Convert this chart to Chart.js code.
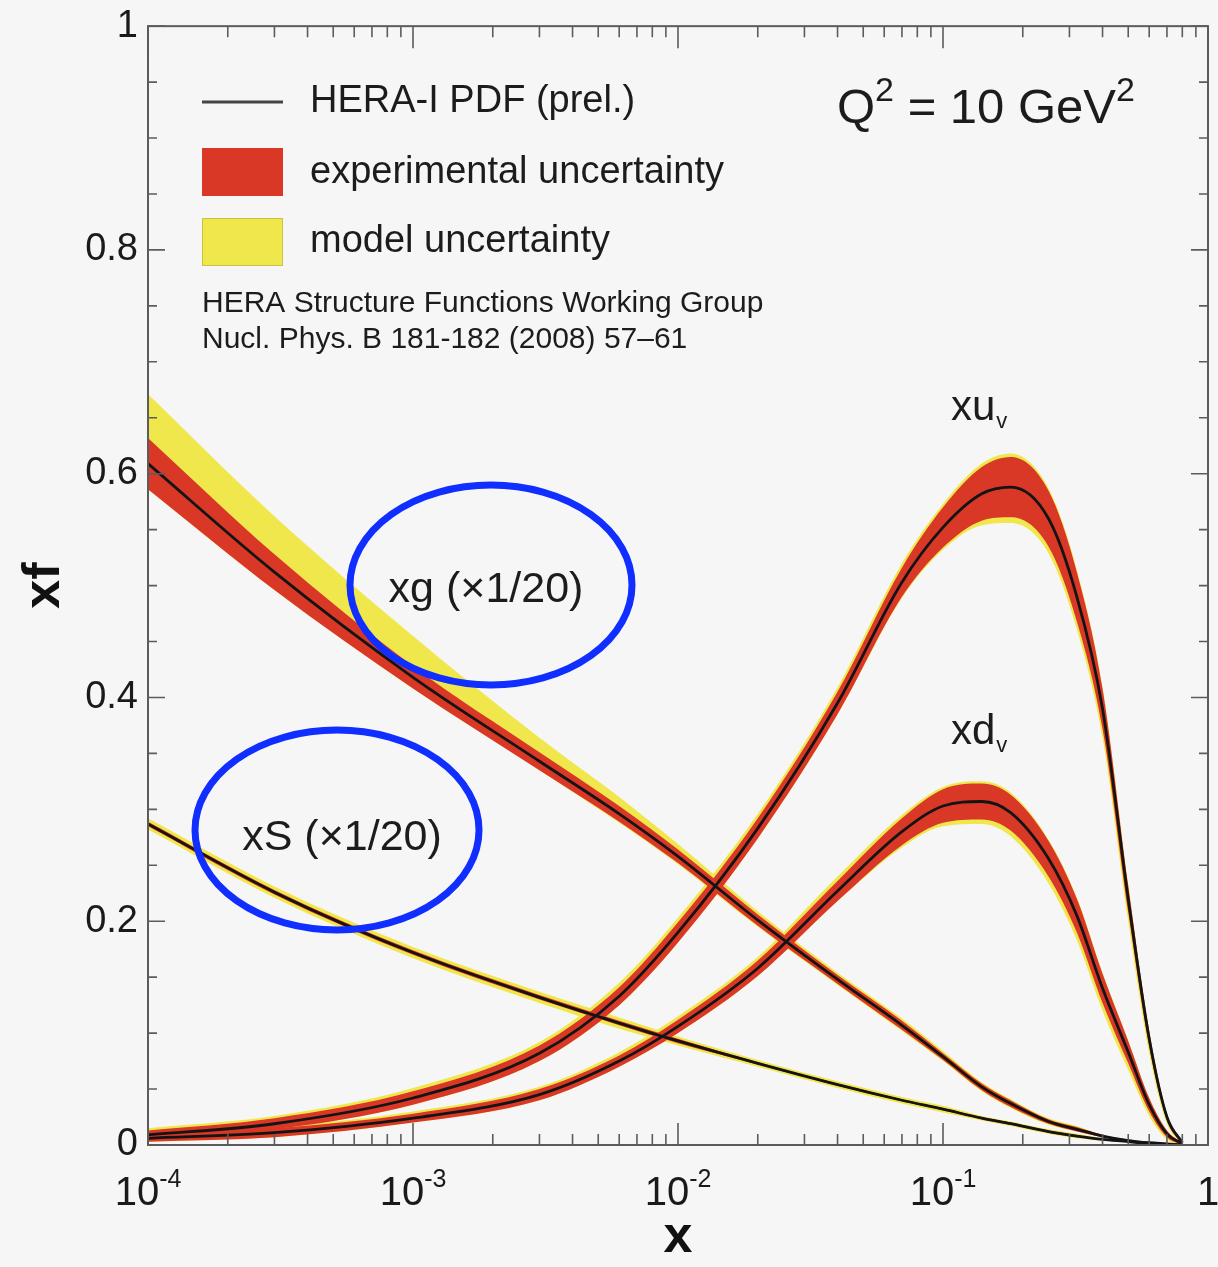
<!DOCTYPE html>
<html>
<head>
<meta charset="utf-8">
<title>HERA-I PDF, Q2 = 10 GeV2</title>
<script src="https://cdn.jsdelivr.net/npm/chart.js@4.4.1/dist/chart.umd.min.js"></script>
<style>
  html, body { margin: 0; padding: 0; background: #f6f6f6; }
  #wrap { width: 1218px; height: 1267px; }
</style>
</head>
<body>
<div id="wrap"><canvas id="chart" width="1218" height="1267"></canvas></div>
<script>
const xValues = [0.0001, 0.0003, 0.001, 0.003, 0.006, 0.01, 0.02, 0.04, 0.07, 0.1, 0.14, 0.18, 0.25, 0.32, 0.4, 0.5, 0.6, 0.7, 0.8];

// xu_v : central value, experimental half width, extra model band above / below
const xuv      = [0.009, 0.019, 0.042, 0.082, 0.133, 0.190, 0.283, 0.395, 0.503, 0.552, 0.582, 0.588, 0.560, 0.490, 0.390, 0.220, 0.095, 0.025, 0.002];
const xuvExp   = [0.004, 0.005, 0.006, 0.007, 0.008, 0.009, 0.009, 0.010, 0.013, 0.018, 0.024, 0.027, 0.025, 0.022, 0.018, 0.012, 0.007, 0.003, 0.001];
const xuvModUp = [0.002, 0.002, 0.003, 0.003, 0.004, 0.004, 0.004, 0.004, 0.004, 0.003, 0.003, 0.003, 0.002, 0.002, 0.001, 0.001, 0.000, 0.000, 0.000];
const xuvModDn = [0.000, 0.000, 0.000, 0.000, 0.000, 0.000, 0.000, 0.000, 0.001, 0.002, 0.004, 0.005, 0.006, 0.007, 0.008, 0.008, 0.006, 0.003, 0.000];

// xd_v
const xdv      = [0.006, 0.011, 0.024, 0.045, 0.075, 0.106, 0.158, 0.227, 0.280, 0.303, 0.307, 0.297, 0.256, 0.205, 0.140, 0.083, 0.036, 0.010, 0.001];
const xdvExp   = [0.003, 0.004, 0.004, 0.005, 0.005, 0.006, 0.007, 0.009, 0.012, 0.015, 0.016, 0.016, 0.016, 0.015, 0.013, 0.010, 0.006, 0.003, 0.001];
const xdvModUp = [0.001, 0.001, 0.002, 0.002, 0.003, 0.003, 0.003, 0.004, 0.003, 0.002, 0.002, 0.002, 0.001, 0.001, 0.001, 0.000, 0.000, 0.000, 0.000];
const xdvModDn = [0.000, 0.000, 0.000, 0.000, 0.000, 0.000, 0.000, 0.000, 0.002, 0.003, 0.004, 0.005, 0.006, 0.007, 0.007, 0.006, 0.004, 0.002, 0.000];

// xg (x 1/20)
const xg       = [0.609, 0.512, 0.418, 0.343, 0.296, 0.258, 0.201, 0.148, 0.107, 0.079, 0.052, 0.037, 0.021, 0.014, 0.008, 0.004, 0.002, 0.001, 0.000];
const xgExp    = [0.023, 0.016, 0.010, 0.008, 0.007, 0.006, 0.005, 0.004, 0.004, 0.003, 0.003, 0.003, 0.002, 0.002, 0.001, 0.001, 0.001, 0.000, 0.000];
const xgModUp  = [0.039, 0.034, 0.027, 0.013, 0.008, 0.005, 0.003, 0.002, 0.002, 0.002, 0.001, 0.001, 0.001, 0.001, 0.000, 0.000, 0.000, 0.000, 0.000];
const xgModDn  = [0.000, 0.000, 0.000, 0.000, 0.001, 0.001, 0.001, 0.001, 0.001, 0.001, 0.001, 0.001, 0.001, 0.000, 0.000, 0.000, 0.000, 0.000, 0.000];

// xS (x 1/20)
const xS       = [0.287, 0.226, 0.172, 0.132, 0.109, 0.093, 0.073, 0.054, 0.040, 0.032, 0.024, 0.019, 0.012, 0.008, 0.005, 0.003, 0.001, 0.000, 0.000];
const xSExp    = [0.002, 0.002, 0.002, 0.002, 0.002, 0.002, 0.001, 0.001, 0.001, 0.001, 0.001, 0.001, 0.001, 0.001, 0.000, 0.000, 0.000, 0.000, 0.000];
const xSModUp  = [0.003, 0.003, 0.003, 0.003, 0.003, 0.002, 0.002, 0.002, 0.002, 0.002, 0.001, 0.001, 0.001, 0.001, 0.001, 0.000, 0.000, 0.000, 0.000];
const xSModDn  = [0.003, 0.003, 0.003, 0.003, 0.003, 0.002, 0.002, 0.002, 0.002, 0.002, 0.001, 0.001, 0.001, 0.001, 0.001, 0.000, 0.000, 0.000, 0.000];

// axes
const yTicks = [0, 0.2, 0.4, 0.6, 0.8, 1];
const xDecades = [0.0001, 0.001, 0.01, 0.1, 1];
const xDecadeLabels = [['10', '-4'], ['10', '-3'], ['10', '-2'], ['10', '-1'], ['1', '']];

const FONT = "'Liberation Sans', Arial, Helvetica, sans-serif";
const RED = 'rgb(217, 56, 38)';
const YELLOW = 'rgb(240, 231, 76)';
const BLUE = '#0f2eff';
const AXIS = '#5c5c5c';

function pts(vals) {
    return xValues.map((x, i) => ({ x: x, y: vals[i] }));
}

// one curve = yellow band, red band on top, black line on top
function curve(center, exp, up, dn) {
    const yHi = center.map((v, i) => v + exp[i] + up[i]);
    const yLo = center.map((v, i) => Math.max(0, v - exp[i] - dn[i]));
    const rHi = center.map((v, i) => v + exp[i]);
    const rLo = center.map((v, i) => Math.max(0, v - exp[i]));
    return [
        { data: pts(yHi), backgroundColor: YELLOW, fill: '+1', borderWidth: 0, order: 3 },
        { data: pts(yLo), fill: false, borderWidth: 0, order: 3 },
        { data: pts(rHi), backgroundColor: RED, fill: '+1', borderWidth: 0, order: 2 },
        { data: pts(rLo), fill: false, borderWidth: 0, order: 2 },
        { data: pts(center), borderColor: '#141414', borderWidth: 2.8, fill: false, order: 1 }
    ];
}

const datasets = [].concat(
    curve(xg, xgExp, xgModUp, xgModDn),
    curve(xS, xSExp, xSModUp, xSModDn),
    curve(xuv, xuvExp, xuvModUp, xuvModDn),
    curve(xdv, xdvExp, xdvModUp, xdvModDn)
);

// frame, inward ticks, x labels with exponents, legend and notes
const decor = {
    id: 'decor',
    beforeDraw(chart) {
        const ctx = chart.ctx;
        ctx.save();
        ctx.fillStyle = '#f6f6f6';
        ctx.fillRect(0, 0, chart.width, chart.height);
        ctx.restore();
    },
    afterDatasetsDraw(chart) {
        const { ctx, chartArea: a, scales: { x, y } } = chart;
        ctx.save();
        ctx.strokeStyle = AXIS;
        ctx.lineWidth = 2;
        ctx.strokeRect(a.left, a.top, a.right - a.left, a.bottom - a.top);

        ctx.lineWidth = 1.6;
        ctx.beginPath();
        for (let k = 0; k <= 20; k++) {
            const py = y.getPixelForValue(k * 0.05);
            const len = k % 4 === 0 ? 17 : 9;
            ctx.moveTo(a.left, py); ctx.lineTo(a.left + len, py);
            ctx.moveTo(a.right, py); ctx.lineTo(a.right - len, py);
        }
        for (let d = 0; d < xDecades.length - 1; d++) {
            for (let m = 1; m < 10; m++) {
                const px = x.getPixelForValue(xDecades[d] * m);
                const len = m === 1 ? 22 : 11;
                ctx.moveTo(px, a.bottom); ctx.lineTo(px, a.bottom - len);
                ctx.moveTo(px, a.top); ctx.lineTo(px, a.top + len);
            }
        }
        ctx.stroke();

        // x tick labels 10^n
        ctx.fillStyle = '#1a1a1a';
        ctx.textBaseline = 'alphabetic';
        ctx.textAlign = 'left';
        xDecades.forEach((v, i) => {
            const px = x.getPixelForValue(v);
            const [base, exp] = xDecadeLabels[i];
            ctx.font = `40px ${FONT}`;
            const w1 = ctx.measureText(base).width;
            ctx.font = `25px ${FONT}`;
            const w2 = exp ? ctx.measureText(exp).width : 0;
            const x0 = px - (w1 + w2) / 2;
            ctx.font = `40px ${FONT}`;
            ctx.fillText(base, x0, 1205);
            if (exp) {
                ctx.font = `25px ${FONT}`;
                ctx.fillText(exp, x0 + w1, 1187);
            }
        });
        ctx.restore();
    },
    afterDraw(chart) {
        const ctx = chart.ctx;
        ctx.save();
        ctx.fillStyle = '#1c1c1c';
        ctx.textBaseline = 'middle';
        ctx.textAlign = 'left';

        // legend
        ctx.strokeStyle = '#444';
        ctx.lineWidth = 3;
        ctx.beginPath();
        ctx.moveTo(202, 102); ctx.lineTo(283, 102);
        ctx.stroke();
        ctx.fillStyle = RED;
        ctx.fillRect(202, 148, 81, 48);
        ctx.fillStyle = YELLOW;
        ctx.fillRect(202, 218, 81, 48);
        ctx.strokeStyle = 'rgba(180, 170, 60, 0.6)';
        ctx.lineWidth = 1;
        ctx.strokeRect(202.5, 218.5, 80, 47);

        ctx.fillStyle = '#1c1c1c';
        ctx.font = `38px ${FONT}`;
        ctx.fillText('HERA-I PDF (prel.)', 310, 102);
        ctx.fillText('experimental uncertainty', 310, 173);
        ctx.fillText('model uncertainty', 310, 242);
        ctx.font = `30px ${FONT}`;
        ctx.fillText('HERA Structure Functions Working Group', 202, 304);
        ctx.fillText('Nucl. Phys. B 181-182 (2008) 57\u201361', 202, 340);

        // Q^2 = 10 GeV^2
        ctx.textBaseline = 'alphabetic';
        ctx.font = `49px ${FONT}`;
        ctx.fillText('Q', 837, 123);
        let w = ctx.measureText('Q').width;
        ctx.font = `34px ${FONT}`;
        ctx.fillText('2', 837 + w, 101);
        w += ctx.measureText('2').width;
        ctx.font = `49px ${FONT}`;
        ctx.fillText(' = 10 GeV', 837 + w, 123);
        w += ctx.measureText(' = 10 GeV').width;
        ctx.font = `34px ${FONT}`;
        ctx.fillText('2', 837 + w, 101);

        // curve names
        ctx.font = `42px ${FONT}`;
        ctx.fillText('xu', 951, 420);
        ctx.fillText('xd', 951, 744);
        const wu = ctx.measureText('xu').width;
        const wd = ctx.measureText('xd').width;
        ctx.font = `22px ${FONT}`;
        ctx.fillText('v', 951 + wu + 1, 428);
        ctx.fillText('v', 951 + wd + 1, 752);

        ctx.textAlign = 'center';
        ctx.textBaseline = 'middle';
        ctx.font = `43px ${FONT}`;
        ctx.fillText('xg (\u00d71/20)', 486, 590);
        ctx.fillText('xS (\u00d71/20)', 342, 838);

        // blue ellipses
        ctx.strokeStyle = BLUE;
        ctx.lineWidth = 7;
        ctx.beginPath();
        ctx.ellipse(491, 585, 141, 100, 0, 0, Math.PI * 2);
        ctx.stroke();
        ctx.beginPath();
        ctx.ellipse(337, 830, 142, 100, 0, 0, Math.PI * 2);
        ctx.stroke();
        ctx.restore();
    }
};

new Chart(document.getElementById('chart'), {
    type: 'line',
    data: { datasets: datasets },
    options: {
        responsive: false,
        animation: false,
        devicePixelRatio: 1,
        layout: { padding: { top: 10, right: 10, left: 0, bottom: 0 } },
        elements: {
            point: { radius: 0, hoverRadius: 0 },
            line: { cubicInterpolationMode: 'monotone' }
        },
        plugins: {
            legend: { display: false },
            tooltip: { enabled: false }
        },
        scales: {
            x: {
                type: 'logarithmic',
                min: 0.0001,
                max: 1,
                grid: { display: false, drawTicks: false },
                border: { display: false },
                ticks: { display: false },
                title: {
                    display: true,
                    text: 'x',
                    color: '#111',
                    font: { family: FONT, size: 52, weight: 'bold', lineHeight: 1 },
                    padding: { top: 0, bottom: 3 }
                },
                afterFit: (s) => { s.height = 122; }
            },
            y: {
                min: 0,
                max: 1,
                afterBuildTicks: (s) => { s.ticks = yTicks.map(v => ({ value: v })); },
                ticks: {
                    color: '#1a1a1a',
                    padding: 10,
                    font: { family: FONT, size: 38, lineHeight: 0.85 },
                    callback: (v) => String(Number(v.toFixed(1)))
                },
                grid: { display: false, drawTicks: false },
                border: { display: false },
                title: {
                    display: true,
                    text: 'xf',
                    color: '#111',
                    font: { family: FONT, size: 52, weight: 'bold', lineHeight: 1 },
                    padding: { top: 19, bottom: 0 }
                },
                afterFit: (s) => { s.width = 148; }
            }
        }
    },
    plugins: [decor]
});
</script>
</body>
</html>
